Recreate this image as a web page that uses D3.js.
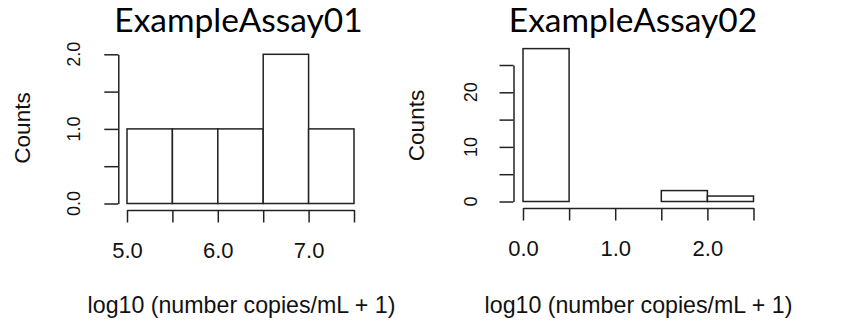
<!DOCTYPE html>
<html lang="en">
<head>
	<meta charset="utf-8">
	<script src="https://d3js.org/d3.v7.min.js"></script>
	<style type="text/css">
		body { margin: 0; background: #fff; }
		svg { display: block; }
		.title { font-family: Lato, "Open Sans", sans-serif; fill: #000; }
		.lbl { font-family: "Liberation Sans", Arial, sans-serif; fill: #111; }
		.bar { fill: #fff; stroke: #222; stroke-width: 1.5px; }
		.axis path, .axis line { stroke-width: 1.5px; }
	</style>
	<title>Histograms</title>
</head>
<body>
<svg id="chart" width="854" height="328"></svg>
<script type="text/javascript">

	// ExampleAssay01
	var assay1Breaks = [5.0, 5.5, 6.0, 6.5, 7.0, 7.5];
	var assay1Counts = [1, 1, 1, 2, 1];
	var assay1YTicks = [0, 0.5, 1, 1.5, 2];
	var assay1YLabels = [0, 1, 2];
	var assay1XLabels = [5, 6, 7];

	// ExampleAssay02
	var assay2Breaks = [0.0, 0.5, 1.0, 1.5, 2.0, 2.5];
	var assay2Counts = [28, 0, 0, 2, 1];
	var assay2YTicks = [0, 5, 10, 15, 20, 25];
	var assay2YLabels = [0, 10, 20];
	var assay2XLabels = [0, 1, 2];

	var titles = ["ExampleAssay01", "ExampleAssay02"];
	var xTitle = "log10 (number copies/mL + 1)";
	var yTitle = "Counts";

	var svg = d3.select("#chart");

	var panels = [
		{title: titles[0], breaks: assay1Breaks, counts: assay1Counts, yTicks: assay1YTicks,
		 yLabels: assay1YLabels, xLabels: assay1XLabels, yFmt: d3.format(".1f"),
		 xr: [127, 354], yr: [203.5, 54.3], yMax: 2,
		 xAxisY: 210, yAxisX: 118.3, titleX: 238.5, yLabX: 80, yTitleX: 29.5, yTitleY: 128, xTitleX: 241.5},
		{title: titles[1], breaks: assay2Breaks, counts: assay2Counts, yTicks: assay2YTicks,
		 yLabels: assay2YLabels, xLabels: assay2XLabels, yFmt: d3.format("d"),
		 xr: [523, 753.5], yr: [201.5, 65], yMax: 25,
		 xAxisY: 208, yAxisX: 513.5, titleX: 633, yLabX: 477, yTitleX: 424, yTitleY: 125.5, xTitleX: 638.5}
	];

	panels.forEach(function(p) {
		var x = d3.scaleLinear()
			.domain([p.breaks[0], p.breaks[p.breaks.length - 1]])
			.range(p.xr);
		var y = d3.scaleLinear().domain([0, p.yMax]).range(p.yr);

		var bins = p.counts.map(function(c, i) {
			return {x0: p.breaks[i], x1: p.breaks[i + 1], n: c};
		});

		svg.selectAll(null)
			.data(bins)
			.enter().append("rect")
			.attr("class", "bar")
			.attr("x", function(d) { return x(d.x0); })
			.attr("width", function(d) { return x(d.x1) - x(d.x0); })
			.attr("y", function(d) { return y(d.n); })
			.attr("height", function(d) { return y(0) - y(d.n); });

		// x axis, offset below the bars like base R
		var xAxis = svg.append("g")
			.attr("class", "axis lbl")
			.attr("transform", "translate(0," + p.xAxisY + ")")
			.style("color", "#222")
			.call(d3.axisBottom(x)
				.tickValues(p.breaks)
				.tickSize(12.5)
				.tickSizeOuter(0)
				.tickPadding(20)
				.tickFormat(function(d) {
					return p.xLabels.indexOf(d) >= 0 ? d3.format(".1f")(d) : "";
				}));
		xAxis.selectAll("text")
			.attr("class", "lbl")
			.style("font-size", "22px")
			.style("fill", "#111");

		// y axis
		svg.append("g")
			.attr("class", "axis")
			.attr("transform", "translate(" + p.yAxisX + ",0)")
			.style("color", "#222")
			.call(d3.axisLeft(y)
				.tickValues(p.yTicks)
				.tickSize(14)
				.tickSizeOuter(0)
				.tickFormat(""));

		svg.selectAll(null)
			.data(p.yLabels)
			.enter().append("text")
			.attr("class", "lbl")
			.attr("text-anchor", "middle")
			.style("font-size", "18px")
			.attr("transform", function(d) {
				return "translate(" + p.yLabX + "," + y(d) + ") rotate(-90)";
			})
			.text(p.yFmt);

		svg.append("text")
			.attr("class", "lbl")
			.attr("text-anchor", "middle")
			.style("font-size", "22.5px")
			.attr("transform", "translate(" + p.yTitleX + "," + p.yTitleY + ") rotate(-90)")
			.text(yTitle);

		svg.append("text")
			.attr("class", "lbl")
			.attr("text-anchor", "middle")
			.style("font-size", "23.2px")
			.attr("x", p.xTitleX)
			.attr("y", 313)
			.text(xTitle);

		svg.append("text")
			.attr("class", "title")
			.attr("text-anchor", "middle")
			.style("font-size", "33.5px")
			.attr("x", p.titleX)
			.attr("y", 32)
			.text(p.title);
	});

</script>
</body>
</html>
